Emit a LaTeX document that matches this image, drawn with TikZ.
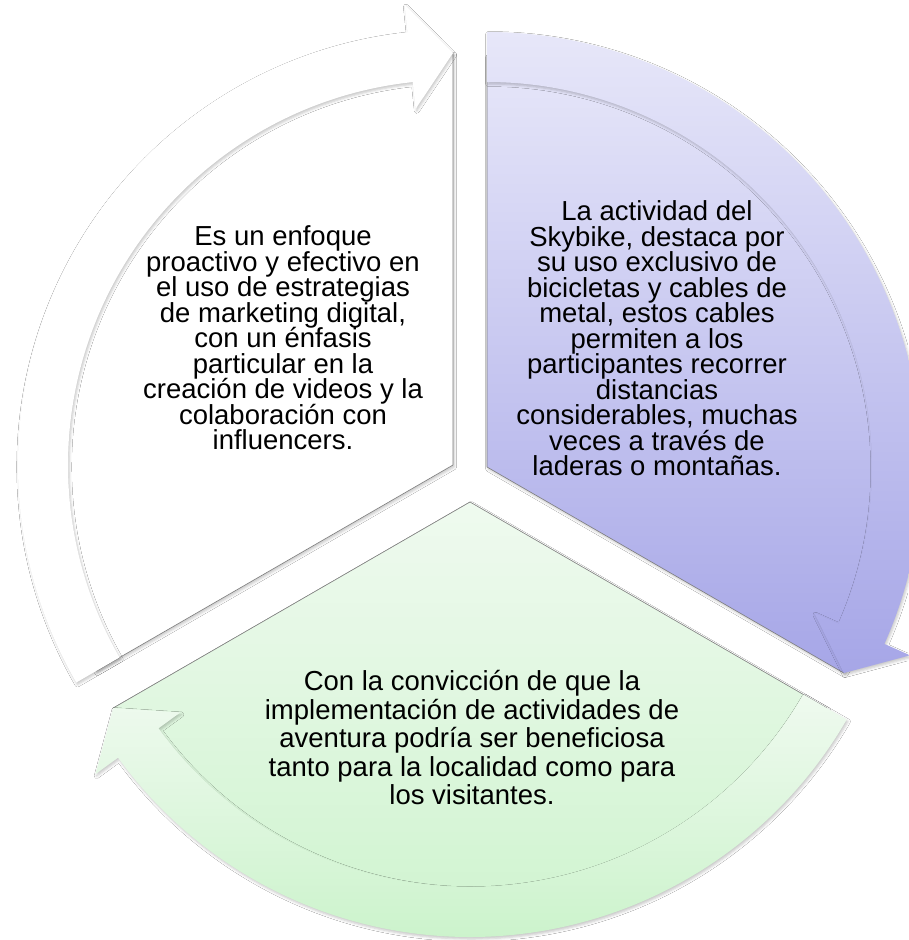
\documentclass[tikz,border=0pt]{standalone}
\usepackage{fontspec}
\setmainfont{Liberation Sans}
\usetikzlibrary{shadows.blur}
\definecolor{pTop}{RGB}{231,231,249}
\definecolor{pBot}{RGB}{166,166,231}
\definecolor{gTop}{RGB}{239,250,239}
\definecolor{gBot}{RGB}{204,243,204}
\definecolor{edgegray}{RGB}{125,125,125}
\tikzset{
  segshadow/.style={blur shadow={shadow xshift=1.2pt, shadow yshift=-2pt, shadow blur radius=2.5pt, shadow opacity=22}},
  wedgeedge/.style={draw=edgegray, line width=0.6pt},
  whitefill/.style={fill=white},
  purplefill/.style={top color=pTop, bottom color=pBot},
  greenfill/.style={top color=gTop, bottom color=gBot},
  segtext/.style={align=center, inner sep=0pt, anchor=base,
    font={\fontsize{27.5pt}{25.5pt}\selectfont\lineskiplimit=-40pt}},
  segtextwide/.style={segtext,
    font={\fontsize{27.5pt}{28.4pt}\selectfont\lineskiplimit=-40pt}},
}
\begin{document}
\begin{tikzpicture}[x=1pt,y=1pt]
\fill[white] (0,0) rectangle (908,-940);
\useasboundingbox (0,0) rectangle (908,-940);

\coordinate (W) at (453,-465);
\coordinate (P) at (487,-467);
\coordinate (G) at (470,-502);

% white segment
\begin{scope}[shift={(W)}]
  \path[whitefill, segshadow] (0,0) -- (210:412) arc[start angle=210, end angle=90, radius=412] -- cycle;
  \draw[wedgeedge] (210:412) -- (0,0) -- (90:412);
  \path[whitefill, segshadow] (210:385) -- (210:435) arc[start angle=210, end angle=96, radius=435]
     -- (96:463) -- (90:412) -- (96:358) -- (96:385) arc[start angle=96, end angle=210, radius=385] -- cycle;
\end{scope}

% purple segment
\begin{scope}[shift={(P)}]
  \path[purplefill, segshadow] (0,0) -- (90:412) arc[start angle=90, end angle=-30, radius=412] -- cycle;
  \draw[wedgeedge] (90:412) -- (0,0) -- (-30:412);
  \path[purplefill, segshadow] (90:385) -- (90:435) arc[start angle=90, end angle=-24, radius=435]
     -- (-24:463) -- (-30:412) -- (-24:358) -- (-24:385) arc[start angle=-24, end angle=90, radius=385] -- cycle;
\end{scope}

% green segment
\begin{scope}[shift={(G)}]
  \path[greenfill, segshadow] (0,0) -- (330:412) arc[start angle=330, end angle=210, radius=412] -- cycle;
  \draw[wedgeedge] (330:412) -- (0,0) -- (210:412);
  \path[greenfill, segshadow] (330:385) -- (330:435) arc[start angle=330, end angle=216, radius=435]
     -- (216:463) -- (210:412) -- (216:358) -- (216:385) arc[start angle=216, end angle=330, radius=385] -- cycle;
\end{scope}

\node[segtext] (twhite) at (283,-449.5) {Es un enfoque\\proactivo y efectivo en\\el uso de estrategias\\de marketing digital,\\con un énfasis\\particular en la\\creación de videos y la\\colaboración con\\influencers.};
\node[segtext] (tpurple) at (657,-475.5) {La actividad del\\Skybike, destaca por\\su uso exclusivo de\\bicicletas y cables de\\metal, estos cables\\permiten a los\\participantes recorrer\\distancias\\considerables, muchas\\veces a través de\\laderas o montañas.};
\node[segtextwide] (tgreen) at (472,-804.5) {Con la convicción de que la\\implementación de actividades de\\aventura podría ser beneficiosa\\tanto para la localidad como para\\los visitantes.};
\end{tikzpicture}
\end{document}
